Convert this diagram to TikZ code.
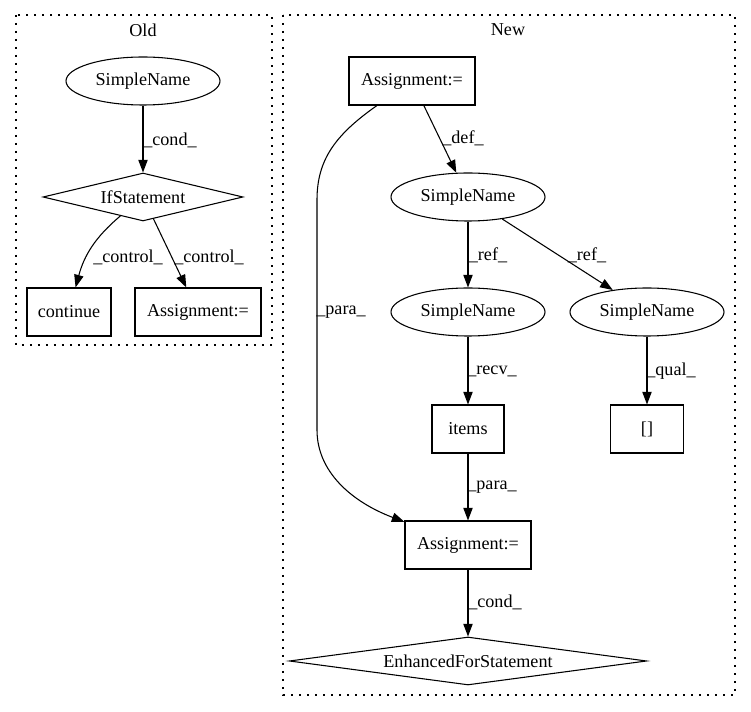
\documentclass[tikz,border=0pt]{standalone}
\usepackage{fontspec}
\setmainfont{Liberation Serif}
\usetikzlibrary{shapes.geometric,arrows.meta}

\begin{document}
\begin{tikzpicture}[x=0.75pt,y=-0.75pt,
    every node/.style={font=\fontsize{13.6pt}{16pt}\selectfont},
    ast/.style={draw,line width=0.8pt,inner sep=0pt},
    namebox/.style={ast,ellipse,minimum width=115.5pt,minimum height=36pt},
    stmtbox/.style={ast,rectangle,minimum height=36pt},
    condbox/.style={ast,diamond,minimum height=36pt},
    link/.style={line width=0.8pt,-{Triangle[length=9.5pt,width=7pt]}},
    lbl/.style={inner sep=0pt},
    cluster/.style={line width=0.9pt,dash pattern=on 1.2pt off 4.8pt}]

    \useasboundingbox (0,0) rectangle (751,712);

    % Old cluster
    \draw[cluster] (16,15) rectangle (272,345);
    \node[lbl] (oldtitle) at (143,30) {Old};

    \node[namebox] (sn1) at (143,81) {SimpleName};
    \node[condbox,aspect=4.2,minimum width=150pt] (ifst) at (143,197) {IfStatement};
    \node[stmtbox,minimum width=63pt] (cont) at (69,312) {continue};
    \node[stmtbox,minimum width=94.5pt] (asg1) at (198,312) {Assignment:=};

    \draw[link] (sn1) -- (ifst);
    \node[lbl] (lcond1) at (170,140) {\_cond\_};
    \draw[link] (ifst) to[out=-140,in=75] (cont);
    \node[lbl] (lctrl1) at (128,257) {\_control\_};
    \draw[link] (ifst) -- (asg1);
    \node[lbl] (lctrl2) at (209,257) {\_control\_};

    % New cluster
    \draw[cluster] (283,15) rectangle (735,695);
    \node[lbl] (newtitle) at (508,30) {New};

    \node[stmtbox,minimum width=94.5pt] (asg2) at (412,81) {Assignment:=};
    \node[namebox] (sn2) at (468,197) {SimpleName};
    \node[namebox] (sn3) at (468,312) {SimpleName};
    \node[namebox] (sn4) at (647,312) {SimpleName};
    \node[stmtbox,minimum width=54pt] (items) at (468,429) {items};
    \node[stmtbox,minimum width=54.75pt] (brk) at (647,429) {[]};
    \node[stmtbox,minimum width=94.5pt] (asg3) at (468,545) {Assignment:=};
    \node[condbox,aspect=7.4,minimum width=268pt] (efor) at (468,661) {EnhancedForStatement};

    \draw[link] (asg2) -- (sn2);
    \node[lbl] (ldef) at (463,138) {\_def\_};
    \draw[link] (sn2) -- (sn3);
    \node[lbl] (lref1) at (488,255) {\_ref\_};
    \draw[link] (sn2) -- (sn4);
    \node[lbl] (lref2) at (587,255) {\_ref\_};
    \draw[link] (sn3) -- (items);
    \node[lbl] (lrecv) at (492,371) {\_recv\_};
    \draw[link] (sn4) -- (brk);
    \node[lbl] (lqual) at (671,371) {\_qual\_};
    \draw[link] (items) -- (asg3);
    \node[lbl] (lpara1) at (492,487) {\_para\_};
    \draw[link] (asg2.-145) .. controls (335,135) and (317,160) .. (317,200)
        -- (317,430) .. controls (317,472) and (352,502) .. (asg3.160);
    \node[lbl] (lpara2) at (341,312) {\_para\_};
    \draw[link] (asg3) -- (efor);
    \node[lbl] (lcond2) at (495,602) {\_cond\_};
\end{tikzpicture}
\end{document}
